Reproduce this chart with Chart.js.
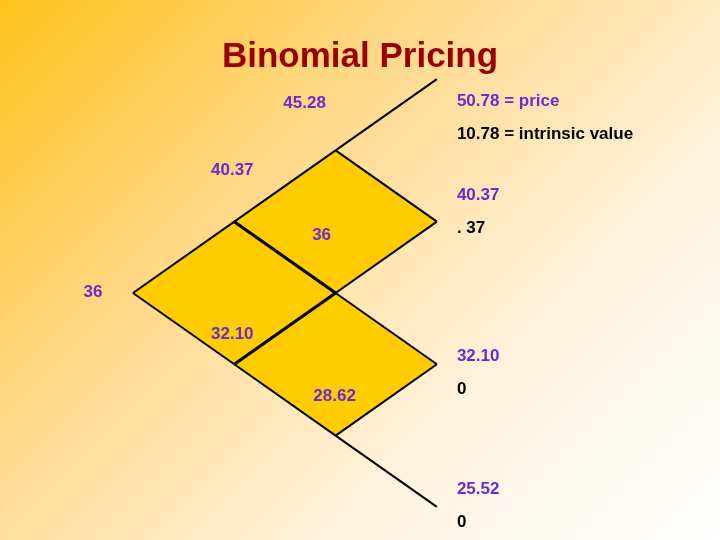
<!DOCTYPE html>
<html>
<head>
<meta charset="utf-8">
<script src="https://cdn.jsdelivr.net/npm/chart.js@4"></script>
<style>
  html, body { margin: 0; padding: 0; }
  body {
    width: 720px; height: 540px; overflow: hidden;
    background: linear-gradient(135deg, #ffc21a 0%, #ffd98a 35%, #fff3e0 70%, #ffffff 100%);
  }
  #wrap { position: absolute; left: 0; top: 0; width: 720px; height: 540px; }
</style>
</head>
<body>
<div id="wrap"><canvas id="chart"></canvas></div>
<script>
// tree nodes: [step, level]
var shadedOutline = [[0,0],[1,1],[2,2],[3,1],[2,0],[3,-1],[2,-2],[1,-1]];
var thinEdges = [
  [[0,0],[1,1]], [[1,1],[2,2]], [[2,2],[3,3]], [[2,2],[3,1]], [[3,1],[2,0]],
  [[2,0],[3,-1]], [[3,-1],[2,-2]], [[2,-2],[3,-3]], [[2,-2],[1,-1]], [[1,-1],[0,0]]
];
var thickEdges = [ [[1,1],[2,0]], [[1,-1],[2,0]] ];

// node values (step, level, text)
var nodeSteps  = [0, 1, 1, 2, 2, 2];
var nodeLevels = [0, 1, -1, 2, 0, -2];
var nodeValues = ["36", "40.37", "32.10", "45.28", "36", "28.62"];

// terminal nodes: price and intrinsic value
var termLevels = [3, 1, -1, -3];
var termPrices = ["50.78 = price", "40.37", "32.10", "25.52"];
var termIntrinsic = ["10.78 = intrinsic value", ". 37", "0", "0"];

function pts(list) { return list.map(function(p){ return {x: p[0], y: p[1]}; }); }

var datasets = [];
thinEdges.forEach(function(e) {
  datasets.push({ data: pts(e), showLine: true, borderColor: "#000", borderWidth: 2, pointRadius: 0, fill: false });
});
thickEdges.forEach(function(e) {
  datasets.push({ data: pts(e), showLine: true, borderColor: "#000", borderWidth: 3.2, pointRadius: 0, fill: false });
});

var shadePlugin = {
  id: "shade",
  beforeDatasetsDraw: function(chart) {
    var ctx = chart.ctx, sx = chart.scales.x, sy = chart.scales.y;
    ctx.save();
    ctx.beginPath();
    shadedOutline.forEach(function(p, i) {
      var x = sx.getPixelForValue(p[0]), y = sy.getPixelForValue(p[1]);
      if (i === 0) ctx.moveTo(x, y); else ctx.lineTo(x, y);
    });
    ctx.closePath();
    ctx.fillStyle = "#ffcc00";
    ctx.fill();
    ctx.restore();
  }
};

var labelsPlugin = {
  id: "treeLabels",
  afterDatasetsDraw: function(chart) {
    var ctx = chart.ctx, sx = chart.scales.x, sy = chart.scales.y;
    ctx.save();
    ctx.textBaseline = "middle";
    ctx.fillStyle = "#990000";
    ctx.font = "bold 35px 'Liberation Sans', Arial, sans-serif";
    ctx.textAlign = "center";
    ctx.fillText("Binomial Pricing", 360, 57);

    ctx.font = "bold 17px 'Liberation Sans', Arial, sans-serif";
    ctx.fillStyle = "#6a2bd0";
    var offsets = { "0,0": [-40, -1], "1,1": [-2, -51], "1,-1": [-2, -30], "2,2": [-31, -47], "2,0": [-14, -58], "2,-2": [-1, -39] };
    for (var i = 0; i < nodeValues.length; i++) {
      var px = sx.getPixelForValue(nodeSteps[i]), py = sy.getPixelForValue(nodeLevels[i]);
      var o = offsets[nodeSteps[i] + "," + nodeLevels[i]];
      ctx.fillText(nodeValues[i], px + o[0], py + o[1]);
    }
    ctx.textAlign = "left";
    var topOffsets = [22, -26, -8, -18];
    for (var j = 0; j < termLevels.length; j++) {
      var tx = sx.getPixelForValue(3) + 20, ty = sy.getPixelForValue(termLevels[j]) + topOffsets[j];
      ctx.fillStyle = "#6a2bd0";
      ctx.fillText(termPrices[j], tx, ty);
      ctx.fillStyle = "#000";
      ctx.fillText(termIntrinsic[j], tx, ty + 33);
    }
    ctx.restore();
  }
};

new Chart(document.getElementById("chart"), {
  type: "scatter",
  data: { datasets: datasets },
  options: {
    responsive: true, maintainAspectRatio: false, animation: false,
    layout: { padding: 0 },
    plugins: { legend: { display: false }, tooltip: { enabled: false } },
    scales: {
      x: { type: "linear", display: false, min: -1.313, max: 5.795 },
      y: { type: "linear", display: false, min: -3.464, max: 4.109 }
    }
  },
  plugins: [shadePlugin, labelsPlugin]
});
</script>
</body>
</html>
